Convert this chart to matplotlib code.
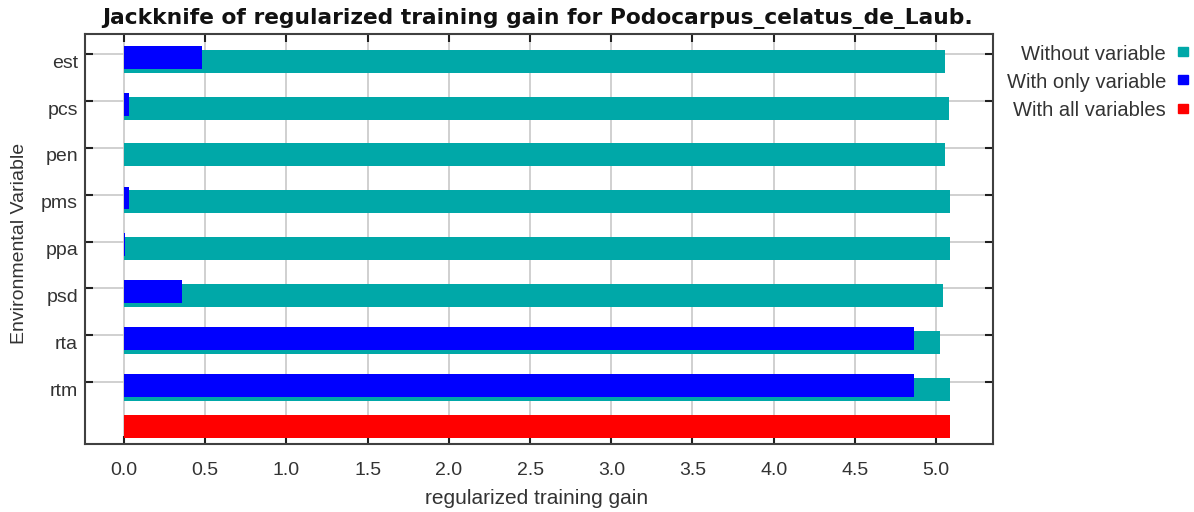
import numpy as np
import matplotlib.pyplot as plt
import matplotlib.transforms as mtransforms
from matplotlib.patches import Rectangle

plt.rcParams['font.family'] = ['Liberation Sans', 'DejaVu Sans']

variables = ['est', 'pcs', 'pen', 'pms', 'ppa', 'psd', 'rta', 'rtm']
without_var = [5.055, 5.08, 5.055, 5.086, 5.086, 5.043, 5.025, 5.086]
only_var = [0.48, 0.03, 0.0, 0.03, 0.006, 0.357, 4.865, 4.865]
all_vars = 5.086

teal = '#00a8a8'
blue = '#0000ff'
red = '#ff0000'
txt = '#333333'

W, H = 1194, 512
fig = plt.figure(figsize=(W / 100, H / 100), dpi=100)
ax = fig.add_axes([85 / W, 1 - 444 / H, 908 / W, 410 / H])

y = np.arange(len(variables))
h = 0.49
ax.barh(y + 0.15, without_var, height=h, color=teal, zorder=2)
ax.barh(y + 0.07, only_var, height=h, color=blue, zorder=3)
ax.barh([len(variables) - 0.05], [all_vars], height=h, color=red, zorder=3)

ax.set_xlim(-0.24, 5.35)
ax.set_ylim(8.32, -0.43)
xt = np.arange(0, 5.01, 0.5)
ax.set_xticks(xt)
ax.set_xticklabels(['%.1f' % v for v in xt])
ax.set_yticks(y)
ax.set_yticklabels(variables)
ax.grid(True, color='#c8c8c8', linewidth=1.2, zorder=0)
ax.set_axisbelow(True)
ax.tick_params(direction='in', length=6, width=1.5, color='#202020',
               top=True, right=True, labelsize=14, labelcolor=txt)
ax.tick_params(axis='x', pad=13)
ax.tick_params(axis='y', pad=5)
# variable names sit a little below their tick, level with the bars
shift = mtransforms.ScaledTranslation(0, -7 / 100, fig.dpi_scale_trans)
for lab in ax.get_yticklabels():
    lab.set_transform(lab.get_transform() + shift)
for s in ax.spines.values():
    s.set_linewidth(1.5)
    s.set_color('#404040')

fig.text(537 / W, 1 - 498 / H, 'regularized training gain', ha='center', va='center',
         fontsize=15, color=txt)
fig.text(19.5 / W, 1 - 243 / H, 'Environmental Variable', ha='center', va='center',
         rotation=90, fontsize=14, color=txt)
fig.text(538 / W, 1 - 24 / H,
         'Jackknife of regularized training gain for Podocarpus_celatus_de_Laub.',
         ha='center', va='baseline', fontsize=15.7, fontweight='bold',
         family='DejaVu Sans', color='#111111')

# legend on the right
labels = ['Without variable', 'With only variable', 'With all variables']
colors = [teal, blue, red]
for i, (lab, c) in enumerate(zip(labels, colors)):
    yy = 1 - (54 + i * 28.5) / H
    fig.text(1166 / W, yy, lab, ha='right', va='center', fontsize=14.5, color=txt)
    fig.patches.append(Rectangle((1178 / W, yy - 1.5 / H), 10 / W, 9 / H,
                                 transform=fig.transFigure, color=c))

fig.savefig('out.png', dpi=100)
